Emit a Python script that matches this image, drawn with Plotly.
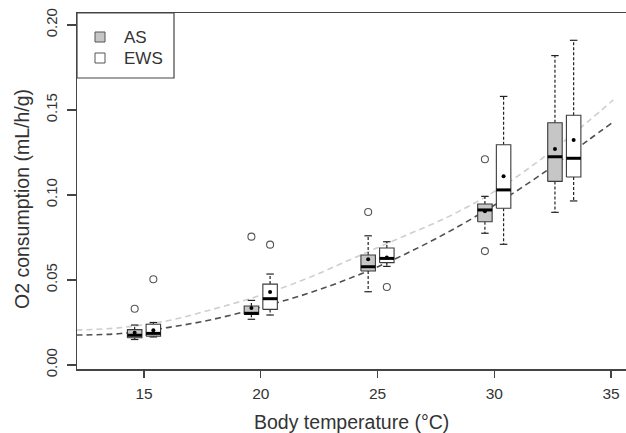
import plotly.graph_objects as go

# ---------------- data ----------------
temps = [15, 20, 25, 30, 33]

as_lower = [0.0150, 0.0269, 0.0431, 0.0775, 0.0898]
as_q1 = [0.0160, 0.0298, 0.0553, 0.0843, 0.1080]
as_median = [0.0175, 0.0304, 0.0578, 0.0912, 0.1225]
as_q3 = [0.0208, 0.0347, 0.0647, 0.0947, 0.1425]
as_upper = [0.0235, 0.0380, 0.0760, 0.0992, 0.1820]
as_mean = [0.0190, 0.0335, 0.0622, 0.0905, 0.1270]
as_outliers = [[0.0331], [0.0755], [0.0900], [0.1210, 0.0670], []]

ews_lower = [0.0165, 0.0294, 0.0580, 0.0710, 0.0965]
ews_q1 = [0.0170, 0.0327, 0.0602, 0.0922, 0.1106]
ews_median = [0.0186, 0.0390, 0.0627, 0.1030, 0.1216]
ews_q3 = [0.0240, 0.0476, 0.0688, 0.1296, 0.1469]
ews_upper = [0.0250, 0.0535, 0.0725, 0.1580, 0.1910]
ews_mean = [0.0205, 0.0430, 0.0632, 0.1110, 0.1324]
ews_outliers = [[0.0504], [0.0708], [0.0459], [], []]

curve_x = [12.1, 14, 16, 18, 20, 22, 24, 26, 28, 30, 32, 34, 35.1]
curve_as = [0.0176, 0.0185, 0.0220, 0.0270, 0.0340, 0.0420, 0.0520, 0.0640, 0.0780, 0.0940, 0.1120, 0.1320, 0.1430]
curve_ews = [0.0205, 0.0220, 0.0260, 0.0330, 0.0410, 0.0510, 0.0630, 0.0750, 0.0870, 0.1020, 0.1210, 0.1430, 0.1560]

x_ticks = [15, 20, 25, 30, 35]
y_ticks = [0.00, 0.05, 0.10, 0.15, 0.20]
y_tick_text = ["0.00", "0.05", "0.10", "0.15", "0.20"]

# ---------------- styling ----------------
W, H = 626, 433
L, R, T, B = 77, 626, 13, 369
OFFSET = 0.4
BOX_W = 0.62
CAP_W = 0.32
AS_FILL = "#c6c6c6"
EWS_FILL = "#ffffff"
EDGE = "#3a3a3a"
TEXT = "#333333"
FONT = "Liberation Sans, Arial, sans-serif"


def paper_x(p):
    return (p - L) / (R - L)


def paper_y(p):
    return 1 - (p - T) / (B - T)


fig = go.Figure()

# fitted curves
fig.add_trace(go.Scatter(x=curve_x, y=curve_ews, mode="lines", line_shape="spline",
                         line=dict(color="#cfcfcf", width=1.6, dash="6px,4px"),
                         showlegend=False, hoverinfo="skip"))
fig.add_trace(go.Scatter(x=curve_x, y=curve_as, mode="lines", line_shape="spline",
                         line=dict(color="#505050", width=1.6, dash="6px,4px"),
                         showlegend=False, hoverinfo="skip"))


def add_group(centers, lower, q1, med, q3, upper, mean, outl, fill):
    # whiskers (dashed)
    wx, wy, cx, cy = [], [], [], []
    for c, lo, a, b, up in zip(centers, lower, q1, q3, upper):
        wx += [c, c, None, c, c, None]
        wy += [b, up, None, a, lo, None]
        cx += [c - CAP_W / 2, c + CAP_W / 2, None, c - CAP_W / 2, c + CAP_W / 2, None]
        cy += [up, up, None, lo, lo, None]
    fig.add_trace(go.Scatter(x=wx, y=wy, mode="lines",
                             line=dict(color="#222222", width=1.2, dash="3px,2px"),
                             showlegend=False, hoverinfo="skip"))
    fig.add_trace(go.Scatter(x=cx, y=cy, mode="lines",
                             line=dict(color="#222222", width=1.2),
                             showlegend=False, hoverinfo="skip"))
    # boxes
    for c, a, b in zip(centers, q1, q3):
        fig.add_trace(go.Scatter(
            x=[c - BOX_W / 2, c + BOX_W / 2, c + BOX_W / 2, c - BOX_W / 2, c - BOX_W / 2],
            y=[a, a, b, b, a], mode="lines", fill="toself", fillcolor=fill,
            line=dict(color=EDGE, width=1.1), showlegend=False, hoverinfo="skip"))
    # medians
    mx, my = [], []
    for c, m in zip(centers, med):
        mx += [c - BOX_W / 2, c + BOX_W / 2, None]
        my += [m, m, None]
    fig.add_trace(go.Scatter(x=mx, y=my, mode="lines",
                             line=dict(color="#000000", width=3),
                             showlegend=False, hoverinfo="skip"))
    # means
    fig.add_trace(go.Scatter(x=centers, y=mean, mode="markers",
                             marker=dict(color="#000000", size=4),
                             showlegend=False, hoverinfo="skip"))
    # outliers
    ox, oy = [], []
    for c, lst in zip(centers, outl):
        for v in lst:
            ox.append(c)
            oy.append(v)
    fig.add_trace(go.Scatter(x=ox, y=oy, mode="markers",
                             marker=dict(symbol="circle-open", color="#555555", size=7,
                                         line=dict(width=1.1)),
                             showlegend=False, hoverinfo="skip"))


as_pos = [t - OFFSET for t in temps]
ews_pos = [t + OFFSET for t in temps]
add_group(as_pos, as_lower, as_q1, as_median, as_q3, as_upper, as_mean, as_outliers, AS_FILL)
add_group(ews_pos, ews_lower, ews_q1, ews_median, ews_q3, ews_upper, ews_mean, ews_outliers, EWS_FILL)

# ---------------- legend (drawn) ----------------
shapes = [
    dict(type="rect", xref="paper", yref="paper", x0=paper_x(77), x1=paper_x(174),
         y0=paper_y(78), y1=paper_y(13), line=dict(color="#444444", width=1.2),
         fillcolor="white", layer="above"),
    dict(type="rect", xref="paper", yref="paper", x0=paper_x(95), x1=paper_x(105),
         y0=paper_y(42), y1=paper_y(32), line=dict(color="#555555", width=1),
         fillcolor=AS_FILL, layer="above"),
    dict(type="rect", xref="paper", yref="paper", x0=paper_x(95), x1=paper_x(105),
         y0=paper_y(63), y1=paper_y(53), line=dict(color="#555555", width=1),
         fillcolor=EWS_FILL, layer="above"),
]

annotations = [
    dict(text="AS", xref="paper", yref="paper", x=paper_x(122), y=paper_y(37.5),
         xanchor="left", yanchor="middle", showarrow=False,
         font=dict(family=FONT, size=17, color=TEXT)),
    dict(text="EWS", xref="paper", yref="paper", x=paper_x(122), y=paper_y(58.5),
         xanchor="left", yanchor="middle", showarrow=False,
         font=dict(family=FONT, size=17, color=TEXT)),
    dict(text="Body temperature (°C)", xref="paper", yref="paper",
         x=paper_x(351), y=paper_y(422), xanchor="center", yanchor="middle",
         showarrow=False, font=dict(family=FONT, size=19.5, color=TEXT)),
    dict(text="O2 consumption (mL/h/g)", xref="paper", yref="paper",
         x=paper_x(22), y=paper_y(199), xanchor="center", yanchor="middle",
         textangle=-90, showarrow=False, font=dict(family=FONT, size=19.5, color=TEXT)),
]

x0 = 15 - (144 - L) / 23.35
x1 = 15 + (R - 144) / 23.35
y0 = -(B - 365) / 1700
y1 = 0.20 + (25 - T) / 1700

fig.update_layout(
    width=W, height=H,
    margin=dict(l=L, r=W - R, t=T, b=H - B),
    paper_bgcolor="white", plot_bgcolor="white",
    showlegend=False,
    shapes=shapes, annotations=annotations,
    font=dict(family=FONT, color=TEXT),
    xaxis=dict(range=[x0, x1], tickvals=x_ticks, ticks="outside", ticklen=7,
               tickwidth=1.2, tickcolor="#444444", showline=True, linecolor="#444444",
               linewidth=1.5, mirror=True, showgrid=False, zeroline=False,
               tickfont=dict(family=FONT, size=15.5, color=TEXT), ticklabelstandoff=3),
    yaxis=dict(range=[y0, y1], tickvals=y_ticks, ticktext=y_tick_text, ticks="outside",
               ticklen=9, tickwidth=1.2, tickcolor="#444444", showline=True,
               linecolor="#444444", linewidth=1.5, showgrid=False, zeroline=False,
               tickangle=-90, tickfont=dict(family=FONT, size=15, color=TEXT),
               ticklabelstandoff=4),
)

fig.write_html("out.html",
               config={"displayModeBar": False, "staticPlot": True},
               post_script="document.body.style.margin='0';document.body.style.overflow='hidden';")
